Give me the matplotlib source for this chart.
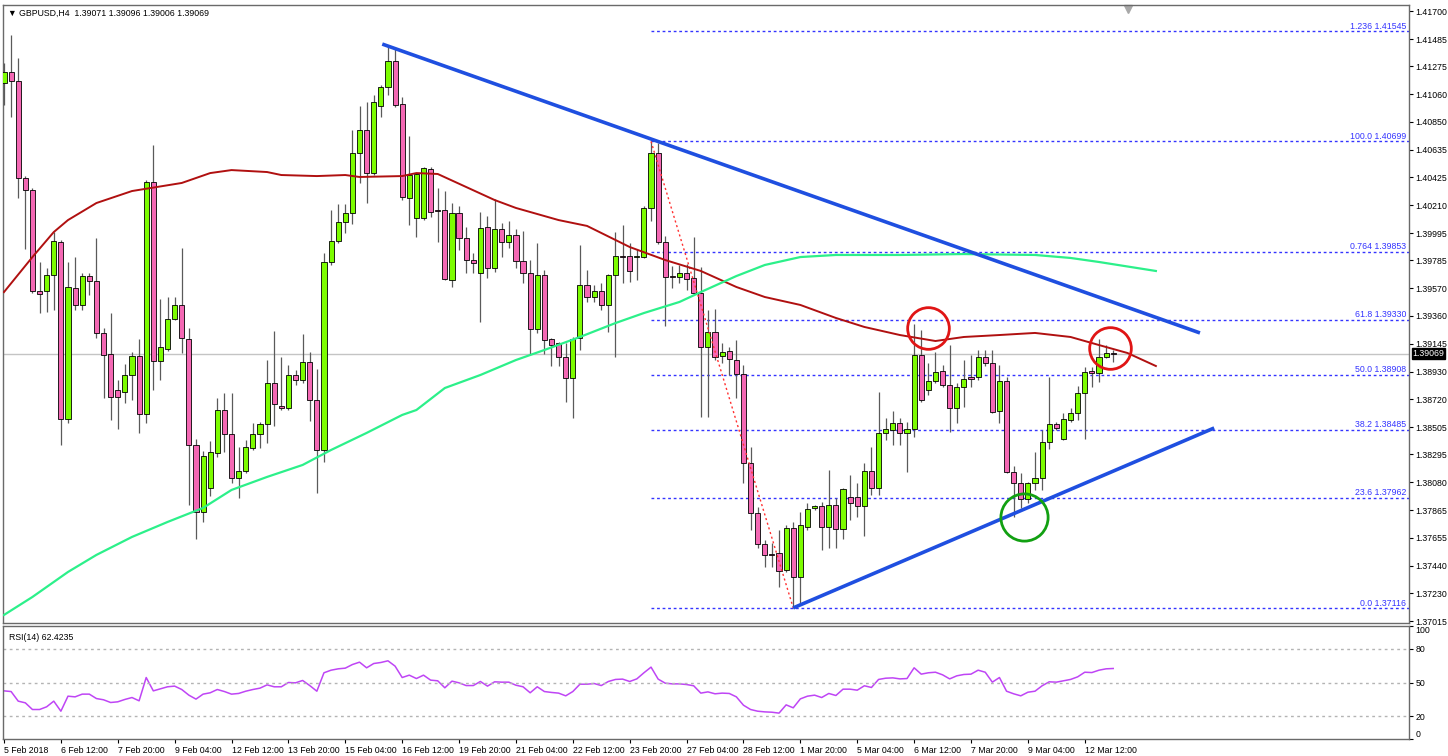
import matplotlib
matplotlib.use("Agg")
import matplotlib.pyplot as plt
import numpy as np

plt.rcParams["font.family"] = ["Liberation Sans", "DejaVu Sans"]

W, H = 1448, 756

# ---- H4 candles, GBPUSD ----
opens = [
    1.41148, 1.41232, 1.41163, 1.40418, 1.40326, 1.39550, 1.39550, 1.39673, 1.39926, 1.38567,
    1.39573, 1.39443, 1.39665, 1.39627, 1.39228, 1.39066, 1.38790, 1.38774, 1.38905, 1.39051,
    1.38606, 1.40387, 1.39013, 1.39105, 1.39335, 1.39443, 1.39182, 1.38367, 1.37853, 1.38037,
    1.38306, 1.38636, 1.38452, 1.38114, 1.38168, 1.38344, 1.38452, 1.38529, 1.38844, 1.38667,
    1.38652, 1.38905, 1.38867, 1.39005, 1.38713, 1.38329, 1.39773, 1.39934, 1.40080, 1.40149,
    1.40610, 1.40787, 1.40456, 1.40971, 1.41117, 1.41317, 1.40986, 1.40264, 1.40111, 1.40111,
    1.40487, 1.40172, 1.40172, 1.39635, 1.40149, 1.39957, 1.39788, 1.39688, 1.40042, 1.39727,
    1.40026, 1.39926, 1.39980, 1.39781, 1.39688, 1.39258, 1.39673, 1.39182, 1.39151, 1.39043,
    1.38882, 1.39189, 1.39596, 1.39504, 1.39550, 1.39443, 1.39673, 1.39819, 1.39819, 1.39811,
    1.39811, 1.40188, 1.40610, 1.39926, 1.39665, 1.39658, 1.39688, 1.39650, 1.39535, 1.39120,
    1.39235, 1.39051, 1.39089, 1.39020, 1.38913, 1.38229, 1.37845, 1.37607, 1.37530, 1.37538,
    1.37407, 1.37730, 1.37354, 1.37738, 1.37884, 1.37899, 1.37738, 1.37907, 1.37722, 1.37968,
    1.37968, 1.37899, 1.38168, 1.38037, 1.38460, 1.38483, 1.38536, 1.38460, 1.38490, 1.39059,
    1.38790, 1.38859, 1.38936, 1.38828, 1.38652, 1.38813, 1.38890, 1.38890, 1.39043, 1.38997,
    1.38628, 1.38859, 1.38160, 1.38076, 1.37953, 1.38076, 1.38114, 1.38390, 1.38529, 1.38414,
    1.38559, 1.38613, 1.38767, 1.38936, 1.38920, 1.39043, 1.39071,
]
highs = [
    1.41301, 1.41516, 1.41340, 1.40433, 1.40341, 1.39773, 1.39727, 1.40003, 1.39942, 1.39773,
    1.39811, 1.39688, 1.39688, 1.39957, 1.39266, 1.39381, 1.38867, 1.38990, 1.39082, 1.39182,
    1.40403, 1.40671, 1.39489, 1.39504, 1.39504, 1.39880, 1.39266, 1.38414, 1.38321, 1.38398,
    1.38728, 1.38767, 1.38767, 1.38352, 1.38406, 1.38536, 1.38544, 1.39020, 1.39243, 1.39043,
    1.38982, 1.38943, 1.39220, 1.39082, 1.38951, 1.39842, 1.40172, 1.40218, 1.40218, 1.40787,
    1.40971, 1.41002, 1.41055, 1.41132, 1.41439, 1.41409, 1.41040, 1.40741, 1.40456, 1.40502,
    1.40502, 1.40341, 1.40318, 1.40226, 1.40203, 1.40042, 1.39842, 1.40157, 1.40126, 1.40257,
    1.40072, 1.40088, 1.40026, 1.40011, 1.39788, 1.39919, 1.39711, 1.39189, 1.39158, 1.39151,
    1.39197, 1.39903, 1.39711, 1.39596, 1.39612, 1.39681, 1.40003, 1.40057, 1.39919, 1.39873,
    1.40203, 1.40699, 1.40687, 1.39973, 1.39742, 1.39750, 1.39758, 1.39965, 1.39734, 1.39404,
    1.39412, 1.39151, 1.39120, 1.39174, 1.38982, 1.38352, 1.37891, 1.37638, 1.37615, 1.37715,
    1.37753, 1.37776, 1.37853, 1.37922, 1.37907, 1.37930, 1.38175, 1.37960, 1.38037, 1.38137,
    1.38076, 1.38229, 1.38352, 1.38774, 1.38575, 1.38629, 1.38575, 1.38544, 1.39297, 1.39251,
    1.38997, 1.39082, 1.38982, 1.39135, 1.38844, 1.39020, 1.39059, 1.39097, 1.39097, 1.39097,
    1.38982, 1.38890, 1.38206, 1.38152, 1.38083, 1.38314, 1.38483, 1.38890, 1.38544, 1.38613,
    1.38652, 1.38821, 1.38966, 1.38966, 1.39182, 1.39135, 1.39096,
]
lows = [
    1.40979, 1.40886, 1.40264, 1.39873, 1.39535, 1.39381, 1.39389, 1.39404, 1.38367, 1.38536,
    1.39404, 1.39404, 1.39519, 1.39189, 1.38728, 1.38559, 1.38490, 1.38690, 1.38713, 1.38460,
    1.38536, 1.38790, 1.38867, 1.39089, 1.39327, 1.39074, 1.37907, 1.37646, 1.37776, 1.37976,
    1.38275, 1.38314, 1.38076, 1.37960, 1.38152, 1.38329, 1.38344, 1.38383, 1.38513, 1.38636,
    1.38636, 1.38828, 1.38844, 1.38552, 1.37999, 1.38237, 1.39750, 1.39919, 1.39996, 1.40065,
    1.40380, 1.40226, 1.40441, 1.40886, 1.41055, 1.40963, 1.40249, 1.40057, 1.39965, 1.40095,
    1.40118, 1.39926, 1.39635, 1.39581, 1.39865, 1.39688, 1.39688, 1.39312, 1.39650, 1.39696,
    1.39811, 1.39880, 1.39727, 1.39612, 1.39066, 1.39228, 1.39066, 1.38974, 1.38974, 1.38698,
    1.38575, 1.39097, 1.39466, 1.39466, 1.39404, 1.39235, 1.39043, 1.39612, 1.39619, 1.39635,
    1.39804, 1.40088, 1.39911, 1.39281, 1.39573, 1.39612, 1.39558, 1.39527, 1.38582, 1.38582,
    1.39020, 1.38997, 1.38905, 1.38728, 1.38076, 1.37715, 1.37576, 1.37430, 1.37430, 1.37277,
    1.37392, 1.37116, 1.37146, 1.37715, 1.37868, 1.37561, 1.37576, 1.37576, 1.37646, 1.37791,
    1.37814, 1.37669, 1.37983, 1.37983, 1.38406, 1.38367, 1.38367, 1.38160, 1.38429, 1.38698,
    1.38751, 1.38844, 1.38813, 1.38467, 1.38536, 1.38659, 1.38813, 1.38867, 1.38974, 1.38613,
    1.38536, 1.38152, 1.37814, 1.37884, 1.37922, 1.38022, 1.38022, 1.38337, 1.38483, 1.38406,
    1.38544, 1.38559, 1.38414, 1.38813, 1.38851, 1.39036, 1.39006,
]
closes = [
    1.41232, 1.41163, 1.40418, 1.40326, 1.39550, 1.39527, 1.39673, 1.39934, 1.38567, 1.39581,
    1.39443, 1.39665, 1.39627, 1.39228, 1.39059, 1.38736, 1.38736, 1.38905, 1.39051, 1.38606,
    1.40387, 1.39013, 1.39120, 1.39335, 1.39443, 1.39189, 1.38367, 1.37853, 1.38283, 1.38314,
    1.38636, 1.38452, 1.38114, 1.38168, 1.38352, 1.38452, 1.38529, 1.38844, 1.38682, 1.38652,
    1.38905, 1.38867, 1.39005, 1.38713, 1.38329, 1.39773, 1.39934, 1.40080, 1.40149, 1.40610,
    1.40787, 1.40456, 1.41002, 1.41117, 1.41317, 1.40979, 1.40272, 1.40441, 1.40449, 1.40495,
    1.40157, 1.40165, 1.39642, 1.40149, 1.39957, 1.39788, 1.39765, 1.40034, 1.39727, 1.40026,
    1.39926, 1.39980, 1.39781, 1.39688, 1.39258, 1.39673, 1.39174, 1.39135, 1.39043, 1.38882,
    1.39182, 1.39596, 1.39504, 1.39550, 1.39443, 1.39673, 1.39819, 1.39811, 1.39704, 1.39819,
    1.40188, 1.40610, 1.39926, 1.39658, 1.39658, 1.39688, 1.39642, 1.39535, 1.39120, 1.39235,
    1.39043, 1.39082, 1.39028, 1.38913, 1.38229, 1.37845, 1.37607, 1.37523, 1.37526, 1.37400,
    1.37730, 1.37354, 1.37753, 1.37876, 1.37899, 1.37738, 1.37907, 1.37722, 1.38030, 1.37922,
    1.37899, 1.38168, 1.38037, 1.38460, 1.38490, 1.38536, 1.38460, 1.38490, 1.39059, 1.38713,
    1.38859, 1.38928, 1.38828, 1.38652, 1.38813, 1.38874, 1.38874, 1.39043, 1.38997, 1.38621,
    1.38859, 1.38160, 1.38076, 1.37953, 1.38076, 1.38114, 1.38390, 1.38529, 1.38498, 1.38567,
    1.38613, 1.38767, 1.38928, 1.38920, 1.39043, 1.39074, 1.39069,
]

rsi = [
    42.6, 42.0, 33.5, 32.0, 26.1, 26.1, 28.5, 33.5, 24.6, 37.9,
    37.3, 39.7, 39.7, 35.8, 34.7, 32.3, 32.9, 35.0, 36.7, 33.8,
    54.4, 42.6, 44.4, 46.2, 46.8, 43.8, 38.8, 35.3, 39.7, 40.9,
    43.8, 42.0, 39.7, 40.3, 42.3, 43.8, 45.0, 47.9, 46.2, 46.2,
    50.0, 49.7, 51.8, 47.3, 42.3, 58.6, 60.9, 62.1, 62.7, 65.9,
    68.0, 63.0, 66.8, 67.7, 69.2, 64.5, 54.4, 56.5, 53.5, 56.5,
    52.1, 51.5, 45.3, 51.2, 49.7, 47.3, 47.3, 50.9, 46.8, 50.6,
    50.3, 50.3, 47.6, 46.2, 40.9, 46.2, 42.0, 41.2, 40.6, 38.2,
    42.0, 48.5, 48.5, 49.1, 47.3, 50.9, 52.7, 53.0, 50.9, 53.2,
    58.6, 63.6, 53.0, 49.4, 48.8, 48.8, 48.2, 47.1, 40.6, 41.7,
    40.0, 40.6, 40.3, 37.3, 29.9, 26.1, 24.6, 24.0, 23.7, 22.9,
    30.2, 27.6, 35.5, 37.9, 38.8, 36.7, 40.3, 38.5, 44.1, 44.1,
    43.2, 47.1, 45.6, 52.7, 53.8, 54.1, 53.2, 53.5, 63.0, 57.4,
    58.6, 59.1, 56.8, 53.2, 55.9, 57.1, 57.4, 60.9, 59.1, 50.3,
    54.4, 42.3, 40.0, 38.2, 41.4, 42.3, 47.1, 50.6, 50.3, 51.5,
    52.7, 55.0, 59.1, 58.8, 60.9, 62.1, 62.4,
]

# moving averages, sampled along the drawn lines (bar index, price)
ma_red_bar = [0, 4, 7, 9, 13, 18, 25, 29, 32, 37, 39, 44, 48, 50, 56, 58, 61, 65, 69, 72,
              78, 82, 88, 93, 98, 103, 107, 112, 117, 121, 126, 131, 135, 140, 145, 150,
              154, 158, 162]
ma_red = [1.39542, 1.39811, 1.40003, 1.40095, 1.40226, 1.40318, 1.40380, 1.40456, 1.40479,
          1.40464, 1.40441, 1.40433, 1.40441, 1.40426, 1.40433, 1.40456, 1.40449, 1.40349,
          1.40249, 1.40188, 1.40095, 1.40050, 1.39888, 1.39788, 1.39704, 1.39581, 1.39504,
          1.39443, 1.39343, 1.39274, 1.39212, 1.39166, 1.39197, 1.39212, 1.39228, 1.39197,
          1.39135, 1.39074, 1.38974]
ma_green_bar = [0, 4, 9, 13, 18, 23, 28, 32, 37, 42, 46, 51, 56, 58, 62, 67, 72, 76, 81, 86,
                90, 95, 98, 103, 107, 112, 117, 126, 135, 145, 150, 154, 162]
ma_green = [1.37062, 1.37200, 1.37392, 1.37523, 1.37661, 1.37776, 1.37884, 1.38022, 1.38122,
            1.38214, 1.38329, 1.38460, 1.38598, 1.38636, 1.38805, 1.38905, 1.39020, 1.39097,
            1.39197, 1.39304, 1.39381, 1.39466, 1.39542, 1.39665, 1.39750, 1.39811, 1.39827,
            1.39827, 1.39834, 1.39827, 1.39804, 1.39773, 1.39704]

# drawn objects
upper_trend_bar = [53.2, 168.2]
upper_trend = [1.41447, 1.39228]
lower_trend_bar = [111, 170.2]
lower_trend = [1.37116, 1.38498]

fib_names = ["1.236", "100.0", "0.764", "61.8", "50.0", "38.2", "23.6", "0.0"]
fib_levels = [1.41545, 1.40699, 1.39853, 1.39330, 1.38908, 1.38485, 1.37962, 1.37116]
fib_from_bar = 91
fib_swing_bar = [91, 111]
fib_swing = [1.40699, 1.37116]

circle_bar = [130, 155.6, 143.5]
circle_price = [1.39266, 1.39112, 1.37814]

last_price = 1.39069
price_ticks = [1.41700, 1.41485, 1.41275, 1.41060, 1.40850, 1.40635, 1.40425, 1.40210,
               1.39995, 1.39785, 1.39570, 1.39360, 1.39145, 1.38930, 1.38720, 1.38505,
               1.38295, 1.38080, 1.37865, 1.37655, 1.37440, 1.37230, 1.37015]
date_bar = list(range(0, 153, 8))
date_labels = ["5 Feb 2018", "6 Feb 12:00", "7 Feb 20:00", "9 Feb 04:00", "12 Feb 12:00",
               "13 Feb 20:00", "15 Feb 04:00", "16 Feb 12:00", "19 Feb 20:00", "21 Feb 04:00",
               "22 Feb 12:00", "23 Feb 20:00", "27 Feb 04:00", "28 Feb 12:00", "1 Mar 20:00",
               "5 Mar 04:00", "6 Mar 12:00", "7 Mar 20:00", "9 Mar 04:00", "12 Mar 12:00"]

BULL = "#7CFC00"
BEAR = "#F468B4"
FIB = "#3434FF"
FS = 6.3


def box(left, top, right, bottom):
    return [left / W, 1 - bottom / H, (right - left) / W, (bottom - top) / H]


fig = plt.figure(figsize=(W / 100, H / 100), dpi=100)
ax = fig.add_axes(box(3, 5, 1409, 623))
rax = fig.add_axes(box(3, 626, 1409, 739), sharex=ax)

o, h, l, c = (np.array(v) for v in (opens, highs, lows, closes))
bars = np.arange(len(o))
up = c >= o

# candles
ax.vlines(bars, l, h, color="#5a5a5a", lw=0.9, zorder=3)
ax.bar(bars, np.maximum(np.abs(c - o), 0.00004), bottom=np.minimum(o, c), width=0.72,
       color=[BULL if u else BEAR for u in up], edgecolor="black", linewidth=0.6, zorder=4)

ax.axhline(last_price, color="#c4c4c4", lw=1, zorder=1)

# fibonacci
ax.hlines(fib_levels, fib_from_bar, 200, colors=FIB, linestyles=(0, (2, 2)), lw=1, zorder=2)
for name, lev in zip(fib_names, fib_levels):
    ax.text(197.2, lev + 0.00003, f"{name} {lev:.5f}", ha="right", va="bottom",
            fontsize=FS, color=FIB, zorder=6)
ax.plot(fib_swing_bar, fib_swing, color="#ff3030", ls=(0, (1.5, 2)), lw=1, zorder=5)

# moving averages
ax.plot(ma_red_bar, ma_red, color="#b01010", lw=1.4, zorder=5)
ax.plot(ma_green_bar, ma_green, color="#2cf08a", lw=1.6, zorder=5)

# trend lines
ax.plot(upper_trend_bar, upper_trend, color="#1f4fe0", lw=2.6, zorder=6, solid_capstyle="butt")
ax.plot(lower_trend_bar, lower_trend, color="#1f4fe0", lw=2.6, zorder=6, solid_capstyle="butt")

# highlight circles
ax.plot(circle_bar[:2], circle_price[:2], "o", ms=30, mfc="none", mec="#e01515", mew=2, zorder=7)
ax.plot(circle_bar[2:], circle_price[2:], "o", ms=34, mfc="none", mec="#12a012", mew=2, zorder=7)

# chart shift marker
ax.plot([158.1], [0.993], marker="v", color="#a8a8a8", ms=6,
        transform=ax.get_xaxis_transform(), clip_on=False)

ax.set_xlim(-0.14, 197.6)
ax.set_ylim(1.37000, 1.41747)
ax.yaxis.tick_right()
ax.set_yticks(price_ticks)
ax.set_yticklabels([f"{v:.5f}" for v in price_ticks])
ax.tick_params(axis="y", labelsize=FS, length=3, pad=1.5, width=0.8)
ax.tick_params(axis="x", length=0, labelbottom=False)
ax.text(1.0025, last_price, f"{last_price:.5f}", transform=ax.get_yaxis_transform(),
        ha="left", va="center", fontsize=FS, color="white",
        bbox=dict(boxstyle="square,pad=0.1", fc="black", ec="black"), zorder=8)

# RSI panel
rax.plot(bars, rsi, color="#bf45f5", lw=1.1)
for lev in (20, 50, 80):
    rax.axhline(lev, color="#b4b4b4", ls=(0, (2, 2.5)), lw=1)
rax.set_ylim(0, 100)
rax.yaxis.tick_right()
rax.set_yticks([0, 20, 50, 80, 100])
rax.set_yticklabels(["0", "20", "50", "80", "100"])
rax.tick_params(axis="y", labelsize=FS, length=3, pad=1.5, width=0.8)
ylabels = rax.get_yticklabels()
ylabels[0].set_va("bottom")
ylabels[-1].set_va("top")
rax.set_xticks(date_bar)
rax.set_xticklabels(date_labels, ha="left", fontsize=FS)
rax.tick_params(axis="x", length=3, pad=2, width=0.8)
rax.text(0.004, 0.94, "RSI(14) 62.4235", transform=rax.transAxes, ha="left", va="top", fontsize=FS)

for a in (ax, rax):
    for s in a.spines.values():
        s.set_color("#6a6a6a")
        s.set_linewidth(1)

fig.text(8 / W, 1 - 13 / H, "\u25bc GBPUSD,H4  1.39071 1.39096 1.39006 1.39069",
         ha="left", va="center", fontsize=FS)

fig.savefig("out.png", dpi=100, facecolor="white")
